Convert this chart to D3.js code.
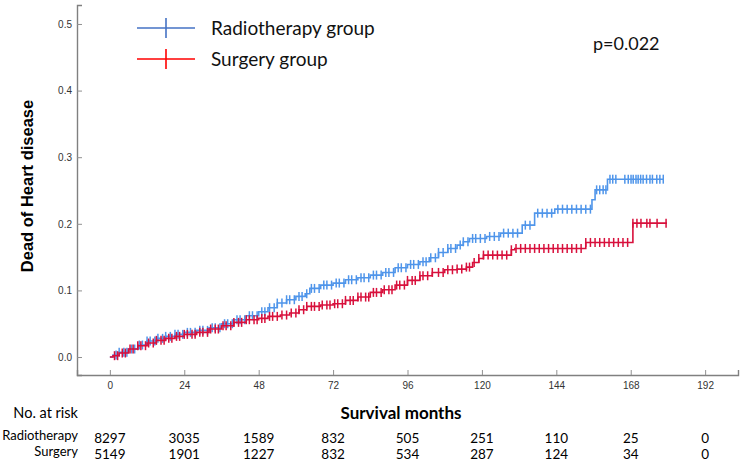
<!DOCTYPE html>
<html>
<head>
<meta charset="utf-8">
<script src="https://cdn.jsdelivr.net/npm/d3@7"></script>
<style>
  body { margin: 0; background: #fff; }
  svg { display: block; }
</style>
</head>
<body>
<svg id="chart" width="744" height="469"></svg>
<script>
// months at which the cumulative incidence steps, and the level after each step
const radioTimes = [0, 1, 3, 6, 9, 12, 15, 18, 21, 24, 28, 32, 36, 40, 44, 48, 51, 54, 57, 60, 63, 64.5, 68, 72, 76, 80, 84, 88, 92, 96, 100, 103, 106, 109, 112, 114, 116, 121.5, 126, 133, 137, 143.5, 155.5, 156.5, 160.5];
const radioValues = [0, 0.003, 0.007, 0.012, 0.018, 0.024, 0.028, 0.031, 0.034, 0.037, 0.040, 0.044, 0.050, 0.056, 0.062, 0.068, 0.074, 0.081, 0.086, 0.091, 0.095, 0.103, 0.108, 0.111, 0.116, 0.119, 0.123, 0.127, 0.134, 0.139, 0.143, 0.149, 0.157, 0.163, 0.168, 0.173, 0.178, 0.181, 0.186, 0.198, 0.216, 0.222, 0.236, 0.251, 0.267];
const radioEnd = 178.5;

const surgTimes = [0, 1, 3, 6, 9, 12, 15, 18, 21, 24, 28, 32, 36, 40, 44, 48, 51, 55, 58, 61, 63.5, 68, 72, 76, 80, 84, 88, 92, 96, 100, 104, 108, 112, 115, 117, 119, 120.5, 129.5, 130.6, 153.5, 168.7];
const surgValues = [0, 0.002, 0.006, 0.012, 0.017, 0.021, 0.025, 0.028, 0.031, 0.034, 0.037, 0.042, 0.047, 0.052, 0.056, 0.058, 0.061, 0.063, 0.066, 0.071, 0.076, 0.078, 0.080, 0.085, 0.090, 0.097, 0.101, 0.108, 0.115, 0.122, 0.127, 0.131, 0.132, 0.135, 0.142, 0.148, 0.153, 0.161, 0.163, 0.172, 0.201];
const surgEnd = 179.7;

// censored observations (months)
const radioCensor = [2, 3, 4.5, 5.5, 7, 8, 9.5, 10.5, 12, 13, 14.5, 15.5, 17, 18, 19.5, 21, 22, 23.5, 25, 26, 27.5, 29, 30, 31.5, 33, 34, 35.5, 37, 38, 39.5, 41, 42, 43.5, 45, 46, 47.5, 49, 50, 51.5, 53, 54, 55.5, 57, 58, 59.5, 61, 62, 63.5, 65, 66, 67.5, 69, 70, 71.5, 73, 74, 75.5, 77, 78, 79.5, 81, 82, 83.5, 85, 86, 87.5, 89, 90, 91.5, 93, 94, 95.5, 97, 98, 99.5, 101, 102, 103.5, 105, 106, 107.5, 109, 110, 111.5, 113, 114, 115.5, 117, 118, 119.5, 121, 122.5, 124, 125.5, 127, 128.5, 130, 131.5, 134, 135.5, 138, 139.5, 141, 142.5, 144.5, 146, 147.5, 149, 150.5, 152, 153.5, 155, 157, 158, 159.1, 160, 161.3, 162.2, 163.2, 166.1, 167.2, 168.1, 168.8, 169.7, 170.4, 171.2, 172, 173.1, 174.2, 175, 176.4, 177.4, 178.5];
const surgCensor = [1.5, 2.5, 4, 5, 6.5, 7.5, 9, 10, 11.5, 12.5, 14, 15, 16.5, 17.5, 19, 20, 21.5, 22.5, 24, 25, 26.5, 27.5, 29, 30, 31.5, 32.5, 34, 35, 36.5, 37.5, 39, 40, 41.5, 42.5, 44, 45, 46.5, 47.5, 49, 50, 51.5, 52.5, 54, 55.5, 57, 58.5, 60, 61, 62.5, 63.5, 65, 66, 67.5, 68.5, 70, 71, 72.5, 73.5, 75, 76, 77.5, 78.5, 80, 81, 82.5, 83.5, 85, 86, 87.5, 88.5, 90, 91, 92.5, 93.5, 95, 96, 97.5, 98.5, 100, 101, 102.5, 104, 106, 107.5, 109, 110.5, 112, 113.5, 115, 116, 117.5, 119, 120.5, 122, 123.5, 125, 126.5, 128, 129.5, 131, 132.5, 134, 135.5, 137, 138.5, 140, 141.5, 143, 144.5, 146, 147.5, 149, 150.5, 152, 153.5, 155, 156.5, 158, 159.5, 161, 162.5, 164, 165.5, 167, 168.7, 170, 171.3, 173.2, 174.2, 176.5, 179.4];

const xTicks = [0, 24, 48, 72, 96, 120, 144, 168, 192];
const yTicks = [0, 0.1, 0.2, 0.3, 0.4, 0.5];
const groupNames = ["Radiotherapy group", "Surgery group"];
const riskLabels = ["Radiotherapy", "Surgery"];
const riskRadio = [8297, 3035, 1589, 832, 505, 251, 110, 25, 0];
const riskSurg = [5149, 1901, 1227, 832, 534, 287, 124, 34, 0];

const svg = d3.select("#chart");
const calibri = "Lato, 'Open Sans', sans-serif";

const x = d3.scaleLinear().domain([-10.6, 202.6]).range([77, 738]);
const y = d3.scaleLinear().domain([-0.027, 0.5285]).range([375, 5]);

// axes
const xAxis = svg.append("g")
    .attr("transform", `translate(0,${y.range()[0]})`)
    .call(d3.axisBottom(x).tickValues(xTicks).tickSize(-5).tickPadding(7).tickFormat(d3.format("d")));
const yAxis = svg.append("g")
    .attr("transform", `translate(${x.range()[0]},0)`)
    .call(d3.axisLeft(y).tickValues(yTicks).tickSize(-5).tickPadding(5).tickFormat(d3.format(".1f")));

[xAxis, yAxis].forEach(g => {
    g.select(".domain").attr("stroke", "#808080").attr("stroke-width", 1.4);
    g.selectAll(".tick line").attr("stroke", "#909090");
    g.selectAll(".tick text").attr("fill", "#333").style("font-family", "Arial, 'Liberation Sans', sans-serif").style("font-size", "10px");
});

// curves
const series = [
    { times: radioTimes, values: radioValues, end: radioEnd, censor: radioCensor, color: "#4f95ea" },
    { times: surgTimes, values: surgValues, end: surgEnd, censor: surgCensor, color: "#d8103c" }
];

const line = d3.line()
    .x(d => x(d[0]))
    .y(d => y(d[1]))
    .curve(d3.curveStepAfter);

series.forEach(s => {
    const pts = s.times.map((t, i) => [t, s.values[i]]);
    pts.push([s.end, s.values[s.values.length - 1]]);
    svg.append("path")
        .datum(pts)
        .attr("fill", "none")
        .attr("stroke", s.color)
        .attr("stroke-width", 1.6)
        .attr("d", line);

    const bis = d3.bisector(d => d).right;
    const levelAt = t => s.values[Math.max(0, bis(s.times, t) - 1)];
    svg.append("g")
        .selectAll("line")
        .data(s.censor)
        .join("line")
        .attr("x1", d => x(d)).attr("x2", d => x(d))
        .attr("y1", d => y(levelAt(d)) - 4.5)
        .attr("y2", d => y(levelAt(d)) + 4.5)
        .attr("stroke", s.color)
        .attr("stroke-width", 1.5);
});

// legend
const legendColors = ["#4472c4", "#ff0000"];
const legend = svg.append("g");
groupNames.forEach((name, i) => {
    const ly = 28 + i * 31;
    legend.append("line").attr("x1", 137).attr("x2", 195).attr("y1", ly).attr("y2", ly)
        .attr("stroke", legendColors[i]).attr("stroke-width", 1.6);
    legend.append("line").attr("x1", 166).attr("x2", 166).attr("y1", ly - 10).attr("y2", ly + 10)
        .attr("stroke", legendColors[i]).attr("stroke-width", 1.6);
    legend.append("text").attr("x", 211).attr("y", ly + 7)
        .style("font-family", calibri).style("font-size", "19px").attr("fill", "#111")
        .text(name);
});

svg.append("text").attr("x", 593).attr("y", 50)
    .style("font-family", calibri).style("font-size", "18px").attr("fill", "#111")
    .text("p=0.022");

// axis titles
svg.append("text")
    .attr("transform", "translate(33,186) rotate(-90)")
    .attr("text-anchor", "middle")
    .style("font-family", "Arial, 'Liberation Sans', sans-serif")
    .style("font-weight", "bold").style("font-size", "16.5px")
    .text("Dead of Heart disease");

svg.append("text").attr("x", 401).attr("y", 419)
    .attr("text-anchor", "middle")
    .style("font-family", calibri).style("font-weight", "bold").style("font-size", "17px")
    .text("Survival months");

// number at risk
svg.append("text").attr("x", 78).attr("y", 418).attr("text-anchor", "end")
    .style("font-family", calibri).style("font-size", "14.5px").text("No. at risk");

[riskRadio, riskSurg].forEach((row, r) => {
    const by = 443 + r * 16;
    svg.append("text").attr("x", 78).attr("y", by - 3).attr("text-anchor", "end")
        .style("font-family", calibri).style("font-size", "13px").text(riskLabels[r]);
    svg.append("g").selectAll("text")
        .data(row)
        .join("text")
        .attr("x", (d, i) => x(xTicks[i]))
        .attr("y", by)
        .attr("text-anchor", "middle")
        .style("font-family", calibri).style("font-size", "13.5px")
        .text(d => d);
});
</script>
</body>
</html>
